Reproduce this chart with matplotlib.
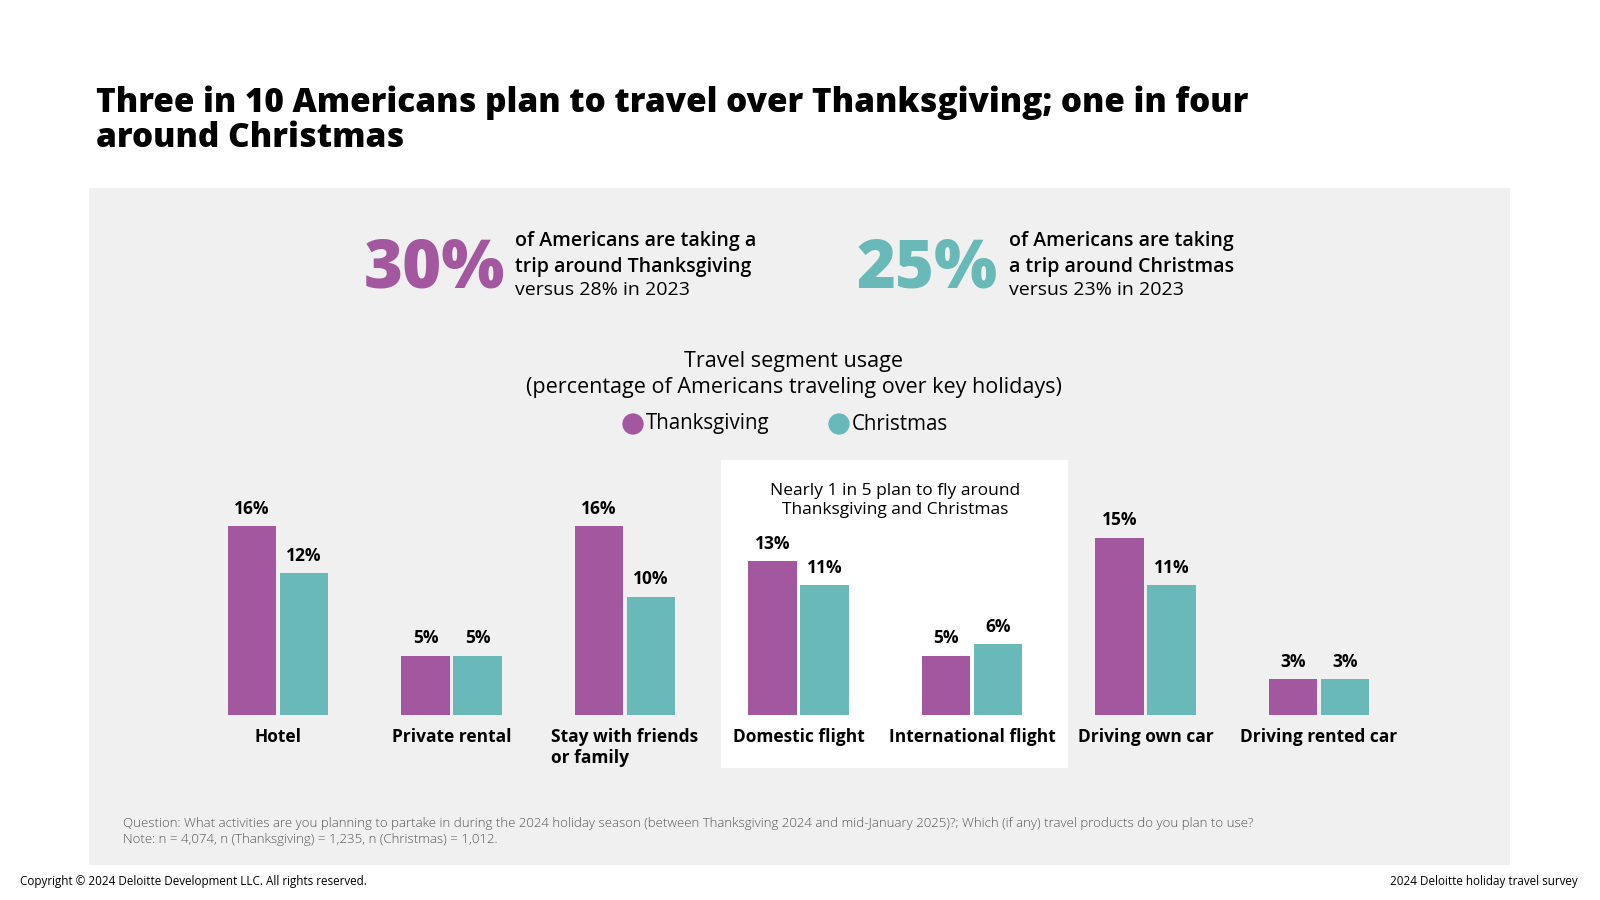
import matplotlib
matplotlib.use("Agg")
import matplotlib.pyplot as plt
from matplotlib.patches import Rectangle

plt.rcParams['font.family'] = ['Open Sans', 'DejaVu Sans']

# data
categories = ['Hotel', 'Private rental', 'Stay with friends\nor family', 'Domestic flight',
              'International flight', 'Driving own car', 'Driving rented car']
thanksgiving = [16, 5, 16, 13, 5, 15, 3]
christmas = [12, 5, 10, 11, 6, 11, 3]
series_names = ['Thanksgiving', 'Christmas']
headline_values = ['30%', '25%']
headline_text = [['of Americans are taking a', 'trip around Thanksgiving', 'versus 28% in 2023'],
                 ['of Americans are taking', 'a trip around Christmas', 'versus 23% in 2023']]

PURPLE = '#A2579F'
TEAL = '#68B9B8'
W, H = 1600, 900

fig = plt.figure(figsize=(16, 9), dpi=100)
fig.patch.set_facecolor('white')

# background layer in pixel coordinates
bg = fig.add_axes([0, 0, 1, 1])
bg.set_xlim(0, W)
bg.set_ylim(H, 0)
bg.axis('off')
bg.add_patch(Rectangle((89, 188), 1421, 677, facecolor='#F0F0F0', edgecolor='none'))
bg.add_patch(Rectangle((721, 460), 347, 308, facecolor='white', edgecolor='none'))

# title
bg.text(96, 112, 'Three in 10 Americans plan to travel over Thanksgiving; one in four',
        fontsize=24, fontweight=800, va='baseline', ha='left', color='black')
bg.text(96, 147, 'around Christmas',
        fontsize=24, fontweight=800, va='baseline', ha='left', color='black')

# headline numbers
for num, lines, xn, xt, col in zip(headline_values, headline_text, [364, 857], [515, 1009], [PURPLE, TEAL]):
    bg.text(xn, 288, num, fontsize=48, fontweight=800, color=col, va='baseline', ha='left')
    bg.text(xt, 246, lines[0], fontsize=14, fontweight='semibold', va='baseline', ha='left')
    bg.text(xt, 272, lines[1], fontsize=14, fontweight='semibold', va='baseline', ha='left')
    bg.text(xt, 295, lines[2], fontsize=14, va='baseline', ha='left')

# chart subtitle
bg.text(794, 361, 'Travel segment usage', fontsize=15.5, ha='center', va='center')
bg.text(794, 388, '(percentage of Americans traveling over key holidays)', fontsize=15.5,
        ha='center', va='center')

# legend
for name, col, xc in zip(series_names, [PURPLE, TEAL], [633, 839]):
    bg.scatter([xc], [424], s=235, color=col, edgecolors='none')
    bg.text(xc + 13, 424, name, fontsize=14.8, ha='left', va='center')

# box annotation
bg.text(895, 491, 'Nearly 1 in 5 plan to fly around', fontsize=12.5, ha='center', va='center')
bg.text(895, 510, 'Thanksgiving and Christmas', fontsize=12.5, ha='center', va='center')

# footnotes
bg.text(123, 824, 'Question: What activities are you planning to partake in during the 2024 holiday season '
        '(between Thanksgiving 2024 and mid-January 2025)?; Which (if any) travel products do you plan to use?',
        fontsize=9.56, color='#555555', fontweight='light', ha='left', va='center')
bg.text(123, 840, 'Note: n = 4,074, n (Thanksgiving) = 1,235, n (Christmas) = 1,012.',
        fontsize=9.56, color='#555555', fontweight='light', ha='left', va='center')
bg.text(20, 881, 'Copyright \u00a9 2024 Deloitte Development LLC. All rights reserved.',
        fontsize=8.4, ha='left', va='center')
bg.text(1578, 881, '2024 Deloitte holiday travel survey', fontsize=8.4, ha='right', va='center')

# bar chart
px_per_pct = 11.8
y0 = 714.7
ymax = 20
left_px = 278 - 173.5 / 2
width_px = 173.5 * len(categories)
ax = fig.add_axes([left_px / W, 1 - y0 / H, width_px / W, ymax * px_per_pct / H])
ax.patch.set_alpha(0)
x = range(len(categories))
bw = 0.282
b1 = ax.bar([i - 0.15 for i in x], thanksgiving, width=bw, color=PURPLE)
b2 = ax.bar([i + 0.15 for i in x], christmas, width=bw, color=TEAL)
ax.bar_label(b1, fmt='%d%%', padding=6, fontsize=12.5, fontweight='bold')
ax.bar_label(b2, fmt='%d%%', padding=6, fontsize=12.5, fontweight='bold')
ax.set_xlim(-0.5, len(categories) - 0.5)
ax.set_ylim(0, ymax)
ax.set_xticks(list(x))
ax.set_xticklabels(categories, fontsize=12.5, fontweight='bold')
for lbl in ax.get_xticklabels():
    lbl.set_multialignment('left')
ax.tick_params(axis='x', length=0, pad=9.5)
ax.set_yticks([])
for s in ax.spines.values():
    s.set_visible(False)

fig.savefig('out.png', dpi=100)
